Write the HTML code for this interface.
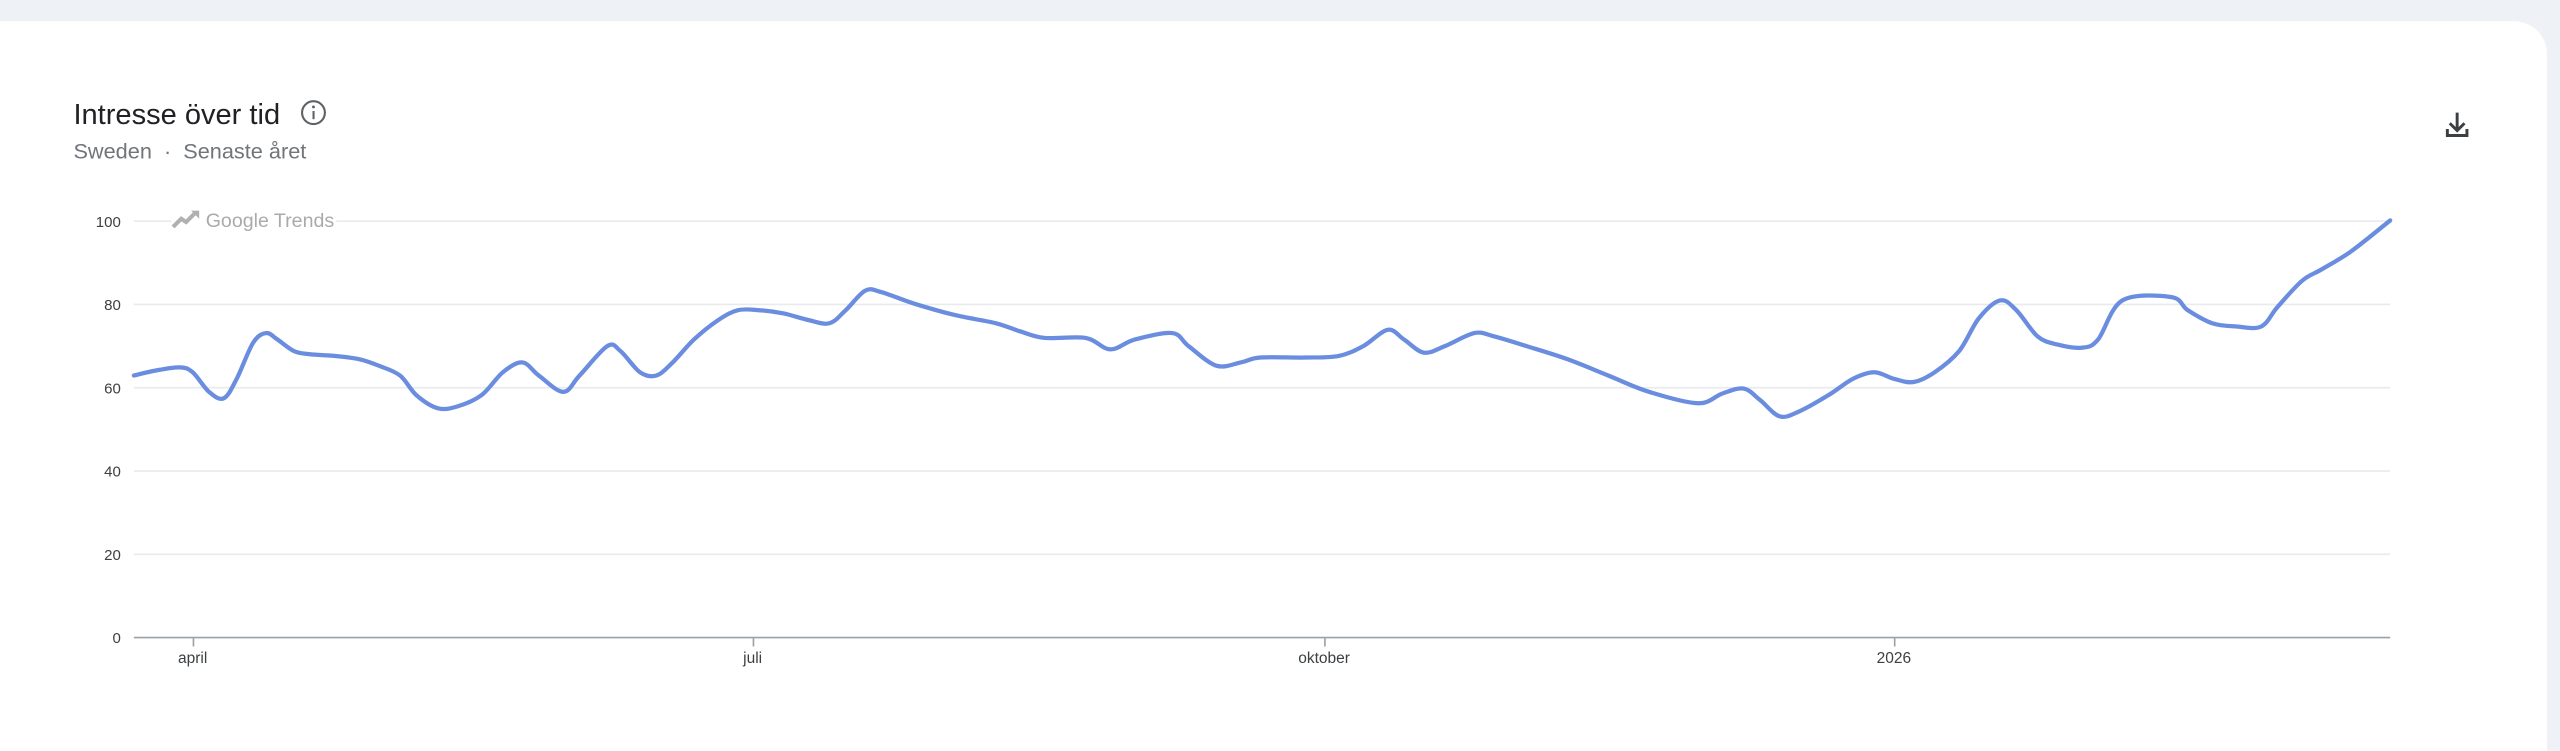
<!DOCTYPE html>
<html><head><meta charset="utf-8"><style>
html,body{margin:0;padding:0;background:#eef1f6;width:2560px;height:751px;overflow:hidden;}
svg{display:block;}
text{font-family:"Liberation Sans",sans-serif;}
</style></head><body>
<svg id="s" width="2560" height="751" viewBox="0 0 1568 460" preserveAspectRatio="none" xmlns="http://www.w3.org/2000/svg">
<rect x="0" y="0" width="1568" height="460" fill="#eef1f6"/>
<rect x="-20" y="13" width="1580" height="470" rx="20" fill="#ffffff"/>
<text x="45" y="76" font-size="17.8" fill="#202124">Intresse över tid</text>
<circle cx="192" cy="69" r="7" fill="none" stroke="#5f6368" stroke-width="1.3"/>
<rect x="191.4" y="68" width="1.3" height="5" fill="#5f6368"/>
<circle cx="192" cy="65.5" r="0.9" fill="#5f6368"/>
<text x="45" y="97" font-size="13.3" fill="#70757a" xml:space="preserve">Sweden  ·  Senaste året</text>
<g stroke="#3c4043" stroke-width="1.8" fill="none">
<path d="M1505 69 V80 M1500.5 75.5 L1505 80 L1509.5 75.5"/>
<path d="M1499 79 V83 H1511 V79"/>
</g>
<g stroke="#e8eaed" stroke-width="1">
<line x1="82" y1="135.5" x2="105" y2="135.5"/><line x1="206" y1="135.5" x2="1464" y2="135.5"/>
<line x1="82" y1="186.5" x2="1464" y2="186.5"/>
<line x1="82" y1="237.5" x2="1464" y2="237.5"/>
<line x1="82" y1="288.5" x2="1464" y2="288.5"/>
<line x1="82" y1="339.5" x2="1464" y2="339.5"/>
</g>
<line x1="82" y1="390.5" x2="1464" y2="390.5" stroke="#9aa0a6" stroke-width="1"/>
<g font-size="9.2" fill="#3c4043" text-anchor="end">
<text x="74" y="139">100</text><text x="74" y="190">80</text><text x="74" y="241">60</text>
<text x="74" y="292">40</text><text x="74" y="343">20</text><text x="74" y="394">0</text>
</g>
<g stroke="#9aa0a6" stroke-width="1">
<line x1="118.5" y1="391" x2="118.5" y2="396"/><line x1="461.5" y1="391" x2="461.5" y2="396"/>
<line x1="811.5" y1="391" x2="811.5" y2="396"/><line x1="1160.5" y1="391" x2="1160.5" y2="396"/>
</g>
<g font-size="9.5" fill="#3c4043" text-anchor="middle">
<text x="118" y="406">april</text><text x="461" y="406">juli</text>
<text x="811" y="406">oktober</text><text x="1160" y="406">2026</text>
</g>
<path d="M106 139 L111 134 L114 136 L120 130" stroke="#b0b0b0" stroke-width="2.5" fill="none"/>
<path d="M117 129 L122 129 L122 134 Z" fill="#b0b0b0"/>
<text x="126" y="139" font-size="12" fill="#aaaaaa">Google Trends</text>
<path id="ln" d="" stroke="#6a8ddf" stroke-width="2.6" fill="none" stroke-linejoin="round" stroke-linecap="round"/>
</svg>
<script>
var p=[[82,230],[95,227],[110,225],[118,228],[128,240],[137,244],[145,232],[155,210],[163,204],[170,208],[180,215],[190,217],[205,218],[220,220],[232,224],[245,230],[255,242],[268,250],[280,249],[295,242],[308,228],[320,222],[330,230],[345,240],[355,230],[372,212],[380,215],[392,228],[402,230],[412,222],[425,208],[440,196],[452,190],[465,190],[480,192],[495,196],[508,198],[518,190],[530,178],[540,179],[560,186],[585,193],[610,198],[625,203],[640,207],[665,207],[680,214],[695,208],[718,204],[728,212],[745,224],[760,222],[772,219],[800,219],[820,218],[835,212],[850,202],[860,208],[872,216],[885,212],[903,204],[915,206],[935,212],[960,220],[985,230],[1010,240],[1040,247],[1055,241],[1068,238],[1078,245],[1090,255],[1102,252],[1120,242],[1135,232],[1148,228],[1160,232],[1172,234],[1185,228],[1200,215],[1212,195],[1225,184],[1235,190],[1248,206],[1260,211],[1275,213],[1285,208],[1300,184],[1330,182],[1340,190],[1355,198],[1370,200],[1385,200],[1395,188],[1410,172],[1422,165],[1440,154],[1464,135]];
var d="M"+p[0][0]+" "+p[0][1];
for(var i=0;i<p.length-1;i++){var a=p[i-1]||p[i],b=p[i],c=p[i+1],e=p[i+2]||c;
d+=" C"+(b[0]+(c[0]-a[0])/6)+" "+(b[1]+(c[1]-a[1])/6)+" "+(c[0]-(e[0]-b[0])/6)+" "+(c[1]-(e[1]-b[1])/6)+" "+c[0]+" "+c[1];}
document.getElementById("ln").setAttribute("d",d);
</script>
</body></html>
